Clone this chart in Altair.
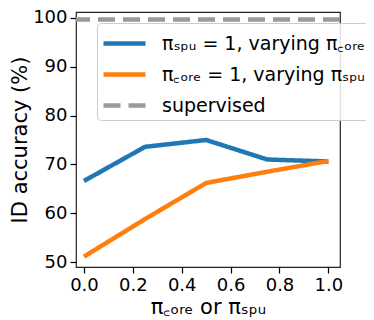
import altair as alt
import pandas as pd

x_vals = [0.0, 0.25, 0.5, 0.75, 1.0]
blue_vals = [66.6, 73.6, 75.0, 71.0, 70.6]
orange_vals = [51.1, 58.8, 66.2, 68.5, 70.7]
supervised_val = 99.7

s_blue = "πₛₚᵤ = 1, varying π꜀ₒᵣₑ"
s_orange = "π꜀ₒᵣₑ = 1, varying πₛₚᵤ"
s_sup = "supervised"
series = [s_blue, s_orange, s_sup]
colors = ["#1f77b4", "#ff7f0e", "#999999"]
dashes = [[1, 0], [1, 0], [17, 8]]

rows = []
for x, b in zip(x_vals, blue_vals):
    rows.append({"x": x, "y": b, "series": s_blue})
for x, o in zip(x_vals, orange_vals):
    rows.append({"x": x, "y": o, "series": s_orange})
df = pd.DataFrame(rows)
sup_df = pd.DataFrame({"y": [supervised_val], "series": [s_sup]})

color = alt.Color("series:N", scale=alt.Scale(domain=series, range=colors),
                  legend=alt.Legend(title=None, orient="none", legendX=21, legendY=11,
                                    symbolType="M-1,0L2,0", symbolSize=784, symbolStrokeWidth=4.5,
                                    symbolFillColor="transparent",
                                    labelFontSize=19, labelFont="DejaVu Sans", labelColor="black",
                                    labelOffset=28, rowPadding=4, padding=4,
                                    strokeColor="#cccccc", fillColor="rgba(255,255,255,0.85)",
                                    cornerRadius=4, labelLimit=400))
dash = alt.StrokeDash("series:N", scale=alt.Scale(domain=series, range=dashes), legend=None)

xs = alt.Scale(domain=[-0.0325, 1.0475], nice=False, zero=False)
ys = alt.Scale(domain=[48.98, 101.22], nice=False, zero=False)

lines = alt.Chart(df).mark_line(strokeWidth=4.5, clip=True).encode(
    x=alt.X("x:Q", scale=xs, title="π꜀ₒᵣₑ or πₛₚᵤ",
            axis=alt.Axis(values=[0, 0.2, 0.4, 0.6, 0.8, 1.0], format=".1f")),
    y=alt.Y("y:Q", scale=ys, title="ID accuracy (%)",
            axis=alt.Axis(values=[50, 60, 70, 80, 90, 100])),
    color=color,
    strokeDash=dash,
)

rule = alt.Chart(sup_df).mark_rule(strokeWidth=4.5).encode(
    y=alt.Y("y:Q", scale=ys),
    color=color,
    strokeDash=dash,
)

chart = alt.layer(rule, lines).properties(
    width=264, height=255,
    autosize=alt.AutoSizeParams(type="none"),
    padding={"left": 68, "top": 4, "right": 26, "bottom": 52},
).configure_view(stroke="#222222", strokeWidth=1.2).configure_axis(
    domain=False, grid=False, ticks=True, tickColor="black", tickSize=6, tickWidth=1.2,
    labelFont="DejaVu Sans", labelFontSize=18, labelColor="black", labelPadding=3,
    titleFont="DejaVu Sans", titleFontSize=21, titleColor="black", titleFontWeight="normal",
).configure_axisY(titlePadding=2).configure_axisX(titlePadding=2)

chart.save("out.html", embed_options={"renderer": "svg", "actions": False})
